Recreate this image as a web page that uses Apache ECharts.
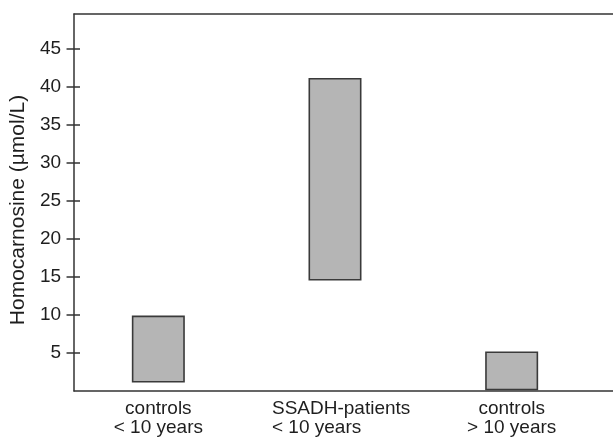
<!DOCTYPE html>
<html>
<head>
<meta charset="utf-8">
<script src="https://cdn.jsdelivr.net/npm/echarts@6/dist/echarts.min.js"></script>
<style>html,body{margin:0;padding:0;background:#fff}#c{width:613px;height:439px}</style>
</head>
<body>
<div id="c"></div>
<script>
var categories = ['controls\n< 10 years', 'SSADH-patients\n< 10 years', 'controls\n> 10 years'];
var lowValues = [1.1, 14.5, 0.1];
var highValues = [9.9, 41.1, 5.2];
var yTicks = [5, 10, 15, 20, 25, 30, 35, 40, 45];
var yMin = 0, yMax = 49.5;
var yTitle = 'Homocarnosine (µmol/L)';

var spans = highValues.map(function (h, i) { return h - lowValues[i]; });
var font = 'Liberation Sans, Arial, Helvetica, sans-serif';
var lineColor = '#333';
var textColor = '#1e1e1e';

var chart = echarts.init(document.getElementById('c'), null, {renderer: 'canvas'});
chart.setOption({
  animation: false,
  backgroundColor: '#fff',
  grid: [
    {left: 70, right: 13, top: 14, bottom: 48},
    {left: 72, right: 0, top: 14, bottom: 48},
    {left: 0, right: 541, top: 14, bottom: 48}
  ],
  xAxis: [
    {
      type: 'category', gridIndex: 0, data: categories,
      axisLine: {show: false}, axisTick: {show: false},
      axisLabel: {
        color: textColor, fontFamily: font, fontSize: 19, lineHeight: 19.5, margin: 8,
        interval: 0,
        formatter: function (v, i) {
          if (i === 1) {
            return v.split('\n').map(function (l) { return '{l|' + l + '}'; }).join('\n');
          }
          return v;
        },
        rich: {l: {width: 140, align: 'left', fontFamily: font, fontSize: 19, color: textColor, lineHeight: 19.5, padding: [0, 0, 0, 14]}}
      }
    },
    {
      type: 'value', gridIndex: 1, min: 0, max: 1, position: 'bottom',
      axisLine: {show: true, onZero: false, lineStyle: {color: lineColor, width: 1.5}},
      axisTick: {show: false}, axisLabel: {show: false}, splitLine: {show: false}
    },
    {
      type: 'value', gridIndex: 1, min: 0, max: 1, position: 'top',
      axisLine: {show: true, onZero: false, lineStyle: {color: lineColor, width: 1.5}},
      axisTick: {show: false}, axisLabel: {show: false}, splitLine: {show: false}
    },
    {
      type: 'value', gridIndex: 2, min: 0, max: 1, show: false
    }
  ],
  yAxis: [
    {
      type: 'value', gridIndex: 0, min: yMin, max: yMax, show: false
    },
    {
      type: 'value', gridIndex: 1, min: yMin, max: yMax, position: 'left',
      name: yTitle, nameLocation: 'middle', nameGap: 37,
      nameTextStyle: {color: textColor, fontFamily: font, fontSize: 21, padding: [0, 15, 0, 0]},
      axisLine: {show: true, onZero: false, lineStyle: {color: lineColor, width: 1.5}},
      axisTick: {show: true, length: 7.5, customValues: yTicks, lineStyle: {color: lineColor, width: 1.5}},
      axisLabel: {color: textColor, fontFamily: font, fontSize: 19, margin: 13, customValues: yTicks},
      splitLine: {show: false}
    },
    {
      type: 'value', gridIndex: 2, min: yMin, max: yMax, position: 'right',
      axisLine: {show: false, onZero: false},
      axisTick: {show: true, length: 8, customValues: yTicks, lineStyle: {color: lineColor, width: 1.5}},
      axisLabel: {show: false},
      splitLine: {show: false}
    }
  ],
  series: [
    {
      type: 'bar', xAxisIndex: 0, yAxisIndex: 0, stack: 'r', data: lowValues,
      barWidth: 53, itemStyle: {color: 'transparent'}, silent: true
    },
    {
      type: 'bar', xAxisIndex: 0, yAxisIndex: 0, stack: 'r', data: spans,
      barWidth: 53, itemStyle: {color: '#b5b5b5', borderColor: '#3a3a3a', borderWidth: 1.6}
    }
  ]
});
</script>
</body>
</html>
